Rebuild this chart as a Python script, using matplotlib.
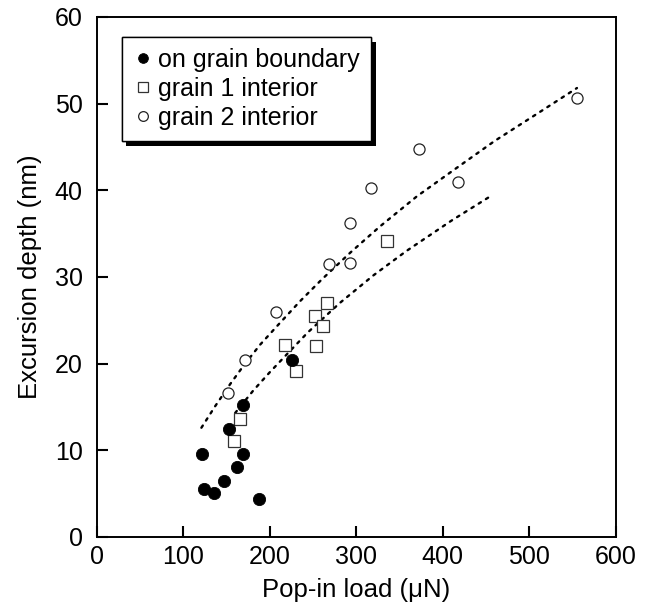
import numpy as np
import matplotlib
matplotlib.use("Agg")
import matplotlib.pyplot as plt
import matplotlib.patheffects as pe

plt.rcParams['font.family'] = ['Liberation Sans', 'DejaVu Sans']

# grain boundary (filled circles)
gb_load = [122, 124, 136, 147, 153, 162, 169, 169, 188, 226]
gb_depth = [9.6, 5.5, 5.1, 6.5, 12.5, 8.1, 9.6, 15.2, 4.4, 20.4]

# grain 1 interior (open squares)
g1_load = [159, 166, 218, 230, 252, 254, 261, 266, 335]
g1_depth = [11.1, 13.6, 22.2, 19.2, 25.5, 22.0, 24.3, 27.0, 34.2]

# grain 2 interior (open circles)
g2_load = [152, 171, 207, 269, 293, 293, 317, 372, 417, 555]
g2_depth = [16.6, 20.4, 26.0, 31.5, 31.6, 36.2, 40.3, 44.8, 40.9, 50.6]

# dotted trend curves
fit2_load = [121, 137, 154, 170, 189, 210, 235, 260, 293, 327, 370, 412, 460, 510, 555]
fit2_depth = [12.6, 15.1, 17.6, 19.8, 22.2, 24.5, 27.2, 29.7, 32.8, 35.8, 39.3, 42.3, 45.7, 48.9, 51.8]
fit1_load = [160, 181, 200, 220, 244, 281, 320, 358, 410, 458]
fit1_depth = [14.3, 16.9, 19.0, 21.1, 23.6, 27.0, 30.2, 33.0, 36.5, 39.5]

fig = plt.figure(figsize=(6.49, 6.06), dpi=100)
ax = fig.add_axes([0.149, 0.114, 0.8, 0.858])

ax.plot(fit2_load, fit2_depth, color='black', lw=1.7, linestyle=(0, (1.1, 2.5)),
        dash_capstyle='round', zorder=1)
ax.plot(fit1_load, fit1_depth, color='black', lw=1.7, linestyle=(0, (1.1, 2.5)),
        dash_capstyle='round', zorder=1)

ax.plot(gb_load, gb_depth, 'o', color='black', ms=8.8, mec='black', mew=0.6,
        label='on grain boundary', zorder=3)
ax.plot(g1_load, g1_depth, 's', mfc='white', mec='#333333', ms=8.0, mew=0.9,
        label='grain 1 interior', zorder=2)
ax.plot(g2_load, g2_depth, 'o', mfc='white', mec='#222222', ms=8.0, mew=0.9,
        label='grain 2 interior', zorder=2)

ax.set_xlim(0, 600)
ax.set_ylim(0, 60)
ax.set_xticks(range(0, 601, 100))
ax.set_yticks(range(0, 61, 10))
ax.tick_params(direction='in', length=8, width=1.5, labelsize=18, top=False, right=False)
ax.tick_params(axis='x', pad=6)
ax.tick_params(axis='y', pad=10)
for s in ax.spines.values():
    s.set_linewidth(1.4)

ax.set_xlabel('Pop-in load (μN)', fontsize=18.5, labelpad=6)
ax.set_ylabel('Excursion depth (nm)', fontsize=18.5, labelpad=9)

leg = ax.legend(loc='upper left', bbox_to_anchor=(0.048, 0.962), borderaxespad=0,
                fontsize=18, handlelength=0.8, handletextpad=0.2, borderpad=0.45,
                labelspacing=0.2, fancybox=False, framealpha=1, edgecolor='black')
frame = leg.get_frame()
frame.set_linewidth(1.0)
frame.set_path_effects([pe.withSimplePatchShadow(offset=(3.5, -3.5), shadow_rgbFace='black', alpha=1),
                        pe.Normal()])
for h in leg.legend_handles:
    h.set_markersize(7)

fig.savefig('out.png', dpi=100)
